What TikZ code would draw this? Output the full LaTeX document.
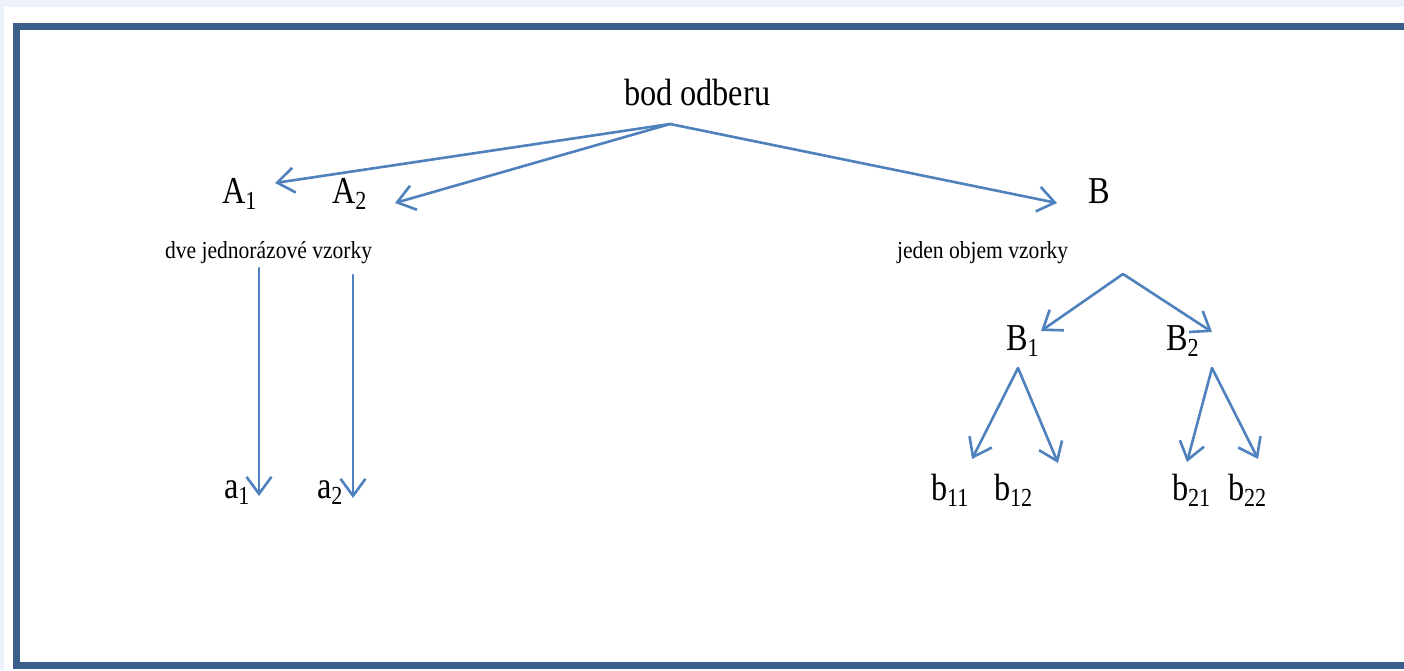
\documentclass[tikz,border=0pt]{standalone}
\usepackage{fontspec}
\setmainfont{Liberation Serif}
\usetikzlibrary{arrows.meta}
\definecolor{pagebg}{HTML}{EDF2FA}
\definecolor{frameblue}{HTML}{3B5E8A}
\definecolor{arrowblue}{HTML}{4F81BD}
\newcommand{\lsub}[1]{\raisebox{-0.17em}{\fontsize{26}{26}\selectfont #1}}
\newcommand{\bigtxt}[1]{\scalebox{0.85}[1]{\fontsize{38}{40}\selectfont #1}}
\newcommand{\smalltxt}[1]{\scalebox{0.88}[1]{\fontsize{24.5}{26}\selectfont #1}}
\tikzset{
  lbl/.style={anchor=base west, inner sep=0pt, outer sep=0pt},
  conn/.style={draw=arrowblue, line width=2.6pt, line cap=round, line join=round,
    -{Straight Barb[length=17pt,width=25pt,line width=2.6pt]}},
}
\begin{document}
\begin{tikzpicture}[x=1pt,y=-1pt]
\useasboundingbox (0,0) rectangle (1404,670);
\clip (0,0) rectangle (1404,670);
\fill[pagebg] (0,0) rectangle (1404,670);
\fill[white] (4,7) rectangle (1420,680);
\draw[frameblue, line width=7pt] (16,26) rectangle (1440,665.5);

% labels
\node[lbl] (bod) at (624,105) {\bigtxt{bod odberu}};
\node[lbl] (A1) at (222,203) {\bigtxt{A\lsub{1}}};
\node[lbl] (A2) at (332,203) {\bigtxt{A\lsub{2}}};
\node[lbl] (B) at (1088,203) {\bigtxt{B}};
\node[lbl] (dve) at (165,258) {\smalltxt{dve jednorázové vzorky}};
\node[lbl] (jeden) at (897,258) {\smalltxt{jeden objem vzorky}};
\node[lbl] (B1) at (1006,350) {\bigtxt{B\lsub{1}}};
\node[lbl] (B2) at (1166,350) {\bigtxt{B\lsub{2}}};
\node[lbl] (a1) at (224,498) {\bigtxt{a\lsub{1}}};
\node[lbl] (a2) at (317,498) {\bigtxt{a\lsub{2}}};
\node[lbl] (b11) at (931,500) {\bigtxt{b\lsub{11}}};
\node[lbl] (b12) at (994,500) {\bigtxt{b\lsub{12}}};
\node[lbl] (b21) at (1172,500) {\bigtxt{b\lsub{21}}};
\node[lbl] (b22) at (1228,500) {\bigtxt{b\lsub{22}}};

% connector end points
\coordinate (bodS) at (670,124);
\coordinate (A1t) at (275,183);
\coordinate (A2t) at (395,203);
\coordinate (Bt) at (1057,203);
\coordinate (jedS) at (1123,274);
\coordinate (B1t) at (1041,331);
\coordinate (B2t) at (1212,332);
\coordinate (B1S) at (1018,368);
\coordinate (B2S) at (1212,368);
\coordinate (b11t) at (972,459);
\coordinate (b12t) at (1058,463);
\coordinate (b21t) at (1187,462);
\coordinate (b22t) at (1258,459);
\coordinate (dveS1) at (259,268);
\coordinate (a1t) at (259,496);
\coordinate (dveS2) at (353,275);
\coordinate (a2t) at (353,498);

\draw[conn] (bodS) -- (A1t);
\draw[conn] (bodS) -- (A2t);
\draw[conn] (bodS) -- (Bt);
\draw[conn] (jedS) -- (B1t);
\draw[conn] (jedS) -- (B2t);
\draw[conn] (B1S) -- (b11t);
\draw[conn] (B1S) -- (b12t);
\draw[conn] (B2S) -- (b21t);
\draw[conn] (B2S) -- (b22t);
\draw[conn] (dveS1) -- (a1t);
\draw[conn] (dveS2) -- (a2t);
\end{tikzpicture}
\end{document}
